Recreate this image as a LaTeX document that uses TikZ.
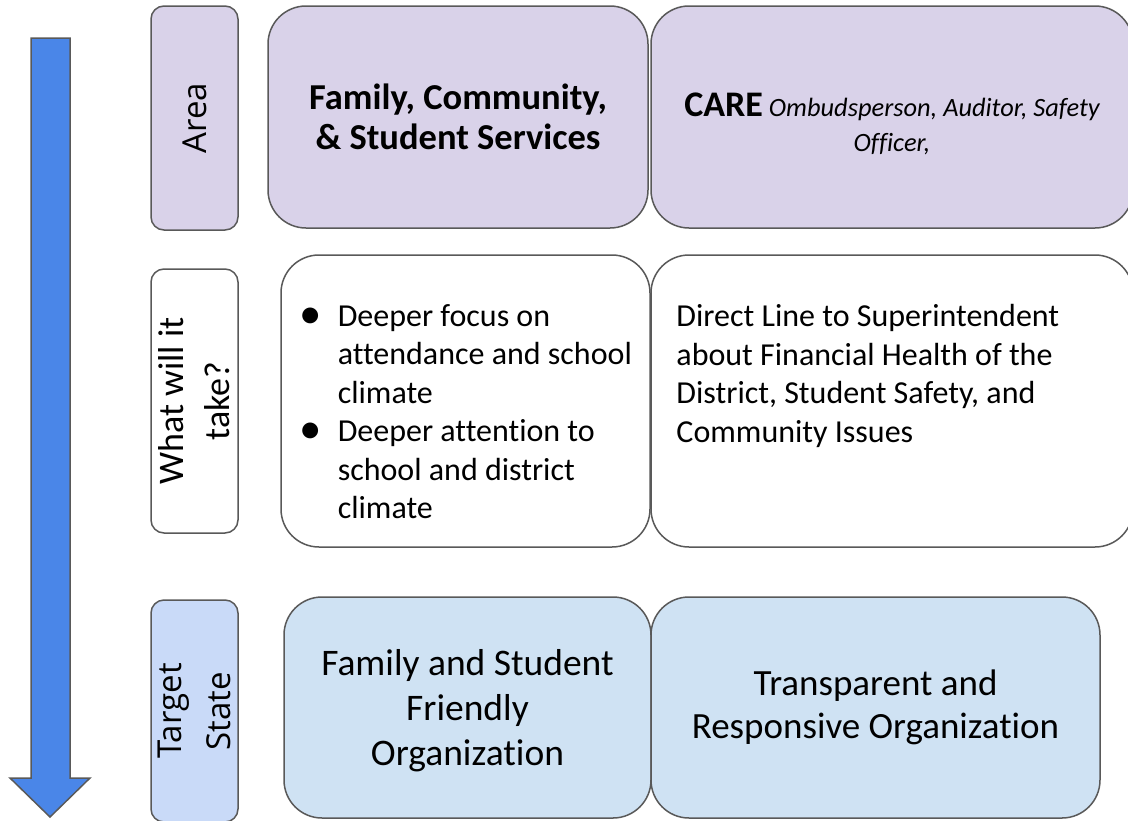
\documentclass[tikz,border=0pt]{standalone}
\usepackage{fontspec}
\setmainfont{Carlito}[Ligatures=NoCommon]
\newfontfamily\labelfont{Open Sans}
\usetikzlibrary{positioning}
\definecolor{boxline}{RGB}{89,89,89}
\definecolor{areafill}{HTML}{D9D2E9}
\definecolor{targetfill}{HTML}{CFE2F3}
\definecolor{targetlab}{HTML}{C9DAF8}
\definecolor{arrowblue}{HTML}{4A86E8}
\newcommand{\bigdot}{\raisebox{-0.06em}{\scalebox{1.4}{•}}}
\begin{document}
\begin{tikzpicture}[x=1pt, y=-1pt,
    box/.style={draw=boxline, line width=1.5pt, rounded corners=38pt},
    side/.style={draw=boxline, line width=1.5pt, rounded corners=13pt, rotate=90,
                 minimum height=87pt, inner sep=0pt, align=center},
    bodytext/.style={inner sep=0pt, align=left, font=\fontsize{32}{38.5}\selectfont}]
    \useasboundingbox (0,0) rectangle (1128,820);
    \clip (0,0) rectangle (1128,820);
    % big arrow on the left
    \draw[boxline, line width=1.5pt, fill=arrowblue] (31,38) -- (70,38) -- (70,778) -- (90,778)
        -- (50,817) -- (10,778) -- (31,778) -- cycle;
    % row labels
    \node[side, fill=areafill, minimum width=224pt, font=\labelfont\fontsize{33}{40}\selectfont]
        (area) at (194.5,118) {Area};
    \node[side, fill=white, minimum width=264pt, font=\fontsize{36}{46}\selectfont]
        (take) at (194.5,401) {What will it\\take?};
    \node[side, fill=targetlab, minimum width=222pt, font=\labelfont\fontsize{33}{49}\selectfont]
        (target) at (194.5,711) {Target\\State};
    % area row
    \node[box, fill=areafill, minimum width=380pt, minimum height=222pt, align=center,
          font=\bfseries\fontsize{36.5}{40}\selectfont] (fcss) at (458,117)
        {Family, Community,\\\& Student Services};
    \node[box, fill=areafill, minimum width=482pt, minimum height=222pt] (care) at (892,117) {};
    \node[align=center, inner sep=0pt, font=\itshape\fontsize{26.4}{35}\selectfont,
          below=-24pt of care.center] (caretxt)
        {{\upshape\bfseries\fontsize{36}{35}\selectfont CARE} Ombudsperson, Auditor, Safety\\Officer,};
    % what will it take row
    \node[box, fill=white, minimum width=369pt, minimum height=292pt] (deeper) at (465.5,401) {};
    \node[box, fill=white, minimum width=482pt, minimum height=292pt] (direct) at (892,401) {};
    \node[bodytext, below right=45pt and 19pt of deeper.north west] (deepertxt)
        {\begin{tabular}{@{}l@{\hspace{16pt}}l@{}}
          \bigdot & Deeper focus on\\
            & attendance and school\\
            & climate\\
          \bigdot & Deeper attention to\\
            & school and district\\
            & climate
        \end{tabular}};
    \node[bodytext, below right=50pt and 26pt of direct.north west] (directtxt)
        {Direct Line to Superintendent\\about Financial Health of the\\District, Student Safety, and\\Community Issues};
    % target state row
    \node[box, fill=targetfill, minimum width=367pt, minimum height=221pt] (friendly) at (467.5,707.5) {};
    \node[align=center, inner sep=0pt, font=\fontsize{37.5}{45}\selectfont,
          below=-58pt of friendly.center] (friendlytxt)
        {Family and Student\\Friendly\\Organization};
    \node[box, fill=targetfill, minimum width=449pt, minimum height=221pt, align=center,
          font=\fontsize{37}{43}\selectfont] (transparent) at (875.5,707.5)
        {Transparent and\\Responsive Organization};
\end{tikzpicture}
\end{document}
